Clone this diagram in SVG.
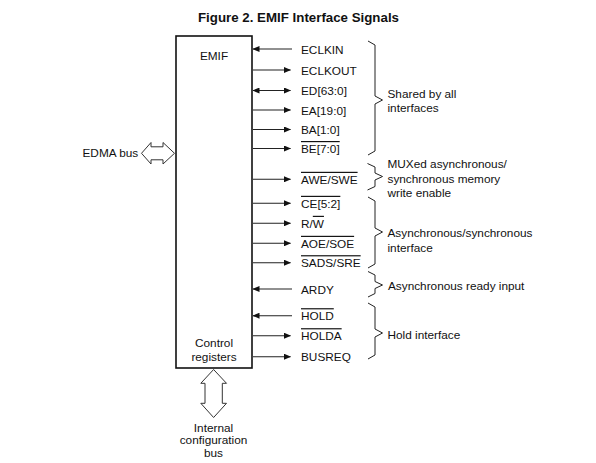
<svg xmlns="http://www.w3.org/2000/svg" width="596" height="463" viewBox="0 0 596 463">
<defs>
<marker id="ah" markerWidth="7" markerHeight="6" refX="6.5" refY="3" orient="auto-start-reverse" markerUnits="userSpaceOnUse">
<path d="M0,0 L7,3 L0,6 z" fill="#111"/>
</marker>
<style>
text{font-family:"Liberation Sans",Arial,sans-serif;font-size:11.8px;fill:#111}
.title{font-weight:bold;font-size:13.3px}
.c{text-anchor:middle}
.sig{stroke:#222;stroke-width:1.1;fill:none}
.brace{stroke:#222;stroke-width:1;fill:none}
.ol{text-decoration:overline}
.hollow{fill:#fff;stroke:#333;stroke-width:1}
</style>
</defs>
<rect width="596" height="463" fill="#fff"/>
<text class="title c" x="298.5" y="22">Figure 2. EMIF Interface Signals</text>

<g id="emif">
<rect x="176" y="36" width="76" height="332" fill="#fff" stroke="#111" stroke-width="1.6"/>
<text class="c" x="214" y="60">EMIF</text>
<text class="c" x="214" y="347">Control</text>
<text class="c" x="214" y="360.5">registers</text>
</g>

<g id="edma-bus">
<path class="hollow" d="M141.5,153.3 L151,142.5 L151,146.8 L163,146.8 L163,142.5 L174.5,153.3 L163,164 L163,159.8 L151,159.8 L151,164 Z"/>
<text x="82.5" y="157">EDMA bus</text>
</g>

<g id="config-bus">
<path class="hollow" d="M213.6,369.5 L226.5,383.3 L222.3,383.3 L222.3,403.3 L226.5,403.3 L213.6,417.5 L200.8,403.3 L205,403.3 L205,383.3 L200.8,383.3 Z"/>
<text class="c" x="213.5" y="431.7">Internal</text>
<text class="c" x="213.5" y="444.2">configuration</text>
<text class="c" x="213.5" y="456.7">bus</text>
</g>

<g id="connectors">
<line class="sig" x1="253" y1="49" x2="292" y2="49" marker-start="url(#ah)"/>
<line class="sig" x1="253" y1="70" x2="290.5" y2="70" marker-end="url(#ah)"/>
<line class="sig" x1="253" y1="90.5" x2="290.5" y2="90.5" marker-start="url(#ah)" marker-end="url(#ah)"/>
<line class="sig" x1="253" y1="110" x2="290.5" y2="110" marker-end="url(#ah)"/>
<line class="sig" x1="253" y1="129.5" x2="290.5" y2="129.5" marker-end="url(#ah)"/>
<line class="sig" x1="253" y1="148.5" x2="290.5" y2="148.5" marker-end="url(#ah)"/>
<line class="sig" x1="253" y1="179.3" x2="290.5" y2="179.3" marker-end="url(#ah)"/>
<line class="sig" x1="253" y1="203.3" x2="290.5" y2="203.3" marker-end="url(#ah)"/>
<line class="sig" x1="253" y1="223.3" x2="290.5" y2="223.3" marker-end="url(#ah)"/>
<line class="sig" x1="253" y1="243.3" x2="290.5" y2="243.3" marker-end="url(#ah)"/>
<line class="sig" x1="253" y1="262.7" x2="290.5" y2="262.7" marker-end="url(#ah)"/>
<line class="sig" x1="253" y1="289" x2="292" y2="289" marker-start="url(#ah)"/>
<line class="sig" x1="253" y1="315.7" x2="292" y2="315.7" marker-start="url(#ah)"/>
<line class="sig" x1="253" y1="335.7" x2="290.5" y2="335.7" marker-end="url(#ah)"/>
<line class="sig" x1="253" y1="356.7" x2="290.5" y2="356.7" marker-end="url(#ah)"/>
</g>

<g id="signal-labels">
<text x="301" y="53.5">ECLKIN</text>
<text x="301" y="74.5">ECLKOUT</text>
<text x="301" y="95">ED[63:0]</text>
<text x="301" y="114.5">EA[19:0]</text>
<text x="301" y="134">BA[1:0]</text>
<text x="301" y="153" class="ol">BE[7:0]</text>
<text x="301" y="183.8" class="ol">AWE/SWE</text>
<text x="301" y="207.8" class="ol">CE[5:2]</text>
<text x="301" y="227.8">R/<tspan class="ol">W</tspan></text>
<text x="301" y="247.8" class="ol">AOE/SOE</text>
<text x="301" y="267.2" class="ol">SADS/SRE</text>
<text x="301" y="293.5">ARDY</text>
<text x="301" y="320.2" class="ol">HOLD</text>
<text x="301" y="340.2" class="ol">HOLDA</text>
<text x="301" y="361.2">BUSREQ</text>
</g>

<g id="group-shared">
<path class="brace" d="M368,41 L375,45 L375,96 L382.5,100 L375,104 L375,151 L368,155"/>
<text x="387.5" y="98.3">Shared by all</text>
<text x="387.5" y="112.3">interfaces</text>
</g>
<g id="group-mux">
<path class="brace" d="M367.5,163.5 L375,167 L375,173 L382.5,176.5 L375,180 L375,186.5 L367.5,190"/>
<text x="387.5" y="168.3">MUXed asynchronous/</text>
<text x="387.5" y="183">synchronous memory</text>
<text x="387.5" y="197">write enable</text>
</g>
<g id="group-async">
<path class="brace" d="M368,197 L375,201 L375,228 L382.5,232 L375,236 L375,264 L368,268"/>
<text x="387.5" y="237.3">Asynchronous/synchronous</text>
<text x="387.5" y="251.7">interface</text>
</g>
<g id="group-ardy">
<path class="brace" d="M368,271.5 L375,275 L375,281.5 L382.5,285 L375,288.5 L375,293.5 L368,297"/>
<text x="388" y="290">Asynchronous ready input</text>
</g>
<g id="group-hold">
<path class="brace" d="M368,303 L375,307 L375,329 L382.5,333 L375,337 L375,355 L368,359"/>
<text x="387.5" y="338.5">Hold interface</text>
</g>
</svg>
